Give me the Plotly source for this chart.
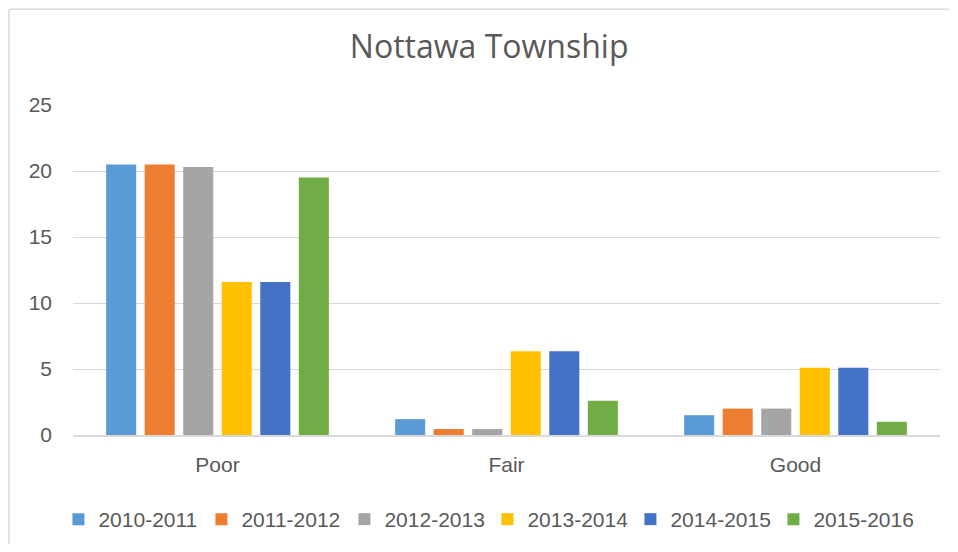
import plotly.graph_objects as go

categories = ["Poor", "Fair", "Good"]
series_names = ["2010-2011", "2011-2012", "2012-2013", "2013-2014", "2014-2015", "2015-2016"]
v_2010_2011 = [20.5, 1.2, 1.5]
v_2011_2012 = [20.5, 0.45, 2.0]
v_2012_2013 = [20.3, 0.45, 2.0]
v_2013_2014 = [11.6, 6.35, 5.1]
v_2014_2015 = [11.6, 6.35, 5.1]
v_2015_2016 = [19.5, 2.6, 1.0]
series_values = [v_2010_2011, v_2011_2012, v_2012_2013, v_2013_2014, v_2014_2015, v_2015_2016]
colors = ["#5B9BD5", "#ED7D31", "#A5A5A5", "#FFC000", "#4472C4", "#70AD47"]
y_ticks = [0, 5, 10, 15, 20, 25]

font_family = "Liberation Sans, Arial, sans-serif"
title_family = "Open Sans, Liberation Sans, sans-serif"
text_color = "#595959"
border_color = "#d9d9d9"

fig = go.Figure()
for name, vals, col in zip(series_names, series_values, colors):
    fig.add_trace(go.Bar(name=name, x=categories, y=vals, marker=dict(color=col, line=dict(width=0))))

fig.update_layout(
    width=942, height=536,
    barmode="group", bargap=0.2, bargroupgap=0.22,
    paper_bgcolor="white", plot_bgcolor="white",
    margin=dict(l=65, r=10, t=97, b=108.5, autoexpand=False),
    title=dict(text="Nottawa Township", x=0.48, xanchor="center", xref="paper",
               y=1 - 39 / 536, yanchor="middle", yref="container",
               font=dict(family=title_family, size=32, color=text_color)),
    font=dict(family=font_family, size=21, color=text_color),
    xaxis=dict(showgrid=False, showline=True, linecolor=border_color, linewidth=1.5,
               ticks="", automargin=False, ticklabelstandoff=10,
               tickfont=dict(size=21, color=text_color)),
    yaxis=dict(range=[0, 25], tickvals=y_ticks, showgrid=True, gridcolor=border_color, gridwidth=1.2,
               zeroline=False, ticks="", ticklabelstandoff=20, automargin=False,
               tickfont=dict(size=21, color=text_color)),
    legend=dict(orientation="h", x=0.478, xanchor="center", y=-0.256, yanchor="middle",
                font=dict(size=21, color=text_color), traceorder="normal",
                itemwidth=30, entrywidth=98, entrywidthmode="pixels"),
    shapes=[
        dict(type="line", xref="paper", yref="paper", x0=-0.0738, x1=-0.0738, y0=-0.33, y1=1.2905,
             line=dict(color=border_color, width=1.5), layer="below"),
        dict(type="line", xref="paper", yref="paper", x0=-0.0738, x1=1.0104, y0=1.2905, y1=1.2905,
             line=dict(color=border_color, width=1.5), layer="below"),
    ],
)

fig.write_html("out.html", config={"displayModeBar": False})
